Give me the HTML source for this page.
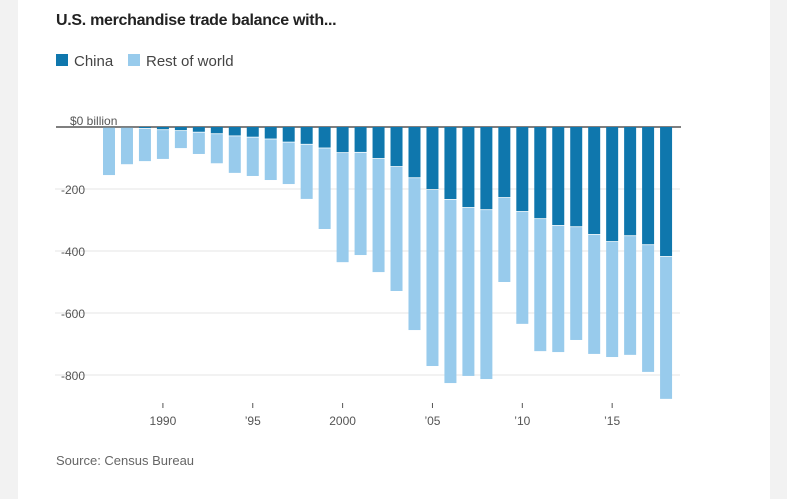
<!DOCTYPE html>
<html><head><meta charset="utf-8"><style>
body{margin:0;width:787px;height:499px;background:#f2f2f2;font-family:"Liberation Sans",sans-serif;overflow:hidden}
#card{position:absolute;left:18px;top:0;width:752px;height:499px;background:#fff}
</style></head><body>
<div id="card"></div>
<svg id="c" width="787" height="499" style="position:absolute;left:0;top:0">
<text x="56" y="25" font-size="16" font-weight="bold" fill="#222" style="letter-spacing:-0.3px">U.S. merchandise trade balance with...</text>
<rect x="56" y="54" width="12" height="12" fill="#0f77ad"/>
<text x="74" y="66" font-size="15" fill="#444">China</text>
<rect x="128" y="54" width="12" height="12" fill="#98cbec"/>
<text x="146" y="66" font-size="15" fill="#444">Rest of world</text>
<g id="grid"></g><g id="bars"></g><g id="xax"></g>
<text x="56" y="465" font-size="13" fill="#666">Source: Census Bureau</text>
</svg>
<script>
const years=[1987,1988,1989,1990,1991,1992,1993,1994,1995,1996,1997,1998,1999,2000,2001,2002,2003,2004,2005,2006,2007,2008,2009,2010,2011,2012,2013,2014,2015,2016,2017,2018];
const china=[-3,-3,-6,-10,-13,-18,-23,-30,-34,-40,-50,-57,-69,-84,-83,-103,-129,-165,-203,-235,-261,-268,-229,-274,-297,-319,-323,-348,-371,-352,-381,-419];
const total=[-155,-120,-110,-103,-68,-87,-117,-148,-158,-171,-184,-232,-329,-436,-413,-468,-529,-655,-771,-826,-803,-813,-500,-635,-723,-726,-687,-732,-742,-735,-790,-877];
const yTicks=[0,-200,-400,-600,-800];
const yTickLabels=["$0 billion","-200","-400","-600","-800"];
const xTicks=[1990,1995,2000,2005,2010,2015];
const xTickLabels=["1990","\u201995","2000","\u201905","\u201910","\u201915"];
const NS="http://www.w3.org/2000/svg";
const y=v=>127-v*0.31;
const x=yr=>109+(yr-1987)*17.97;
function mk(t,a,p){const e=document.createElementNS(NS,t);for(const k in a)e.setAttribute(k,a[k]);document.getElementById(p).appendChild(e);return e;}
yTicks.forEach((v,i)=>{
  if(v!==0){const l=mk('line',{x1:55,x2:680,y1:y(v),y2:y(v),stroke:'#e4e4e4','stroke-width':1},'grid');
  
  }
  const t=mk('text',{x:v===0?70:85,y:y(v)-(v===0?2:-5),'font-size':12,fill:'#555','text-anchor':v===0?'start':'end'},'grid');
  t.textContent=yTickLabels[i];
  
  
});
years.forEach((yr,i)=>{
  const cx=x(yr);
  const r=mk('rect',{x:cx-6,y:y(china[i]),width:12,height:y(total[i])-y(china[i]),fill:'#98cbec'},'bars');
  
  
  const c=mk('rect',{x:cx-6,y:y(0),width:12,height:y(china[i])-y(0)-0.8,fill:'#0f77ad'},'bars');
  
  
});
const z=mk('line',{x1:56,x2:681,y1:y(0),y2:y(0),stroke:'#333','stroke-width':1.2},'grid');


xTicks.forEach((yr,i)=>{
  const tk=mk('line',{x1:x(yr),x2:x(yr),y1:403,y2:408,stroke:'#555'},'xax');
  
  
  const t=mk('text',{x:x(yr),y:425,'font-size':12,fill:'#555','text-anchor':'middle'},'xax');
  t.textContent=xTickLabels[i];
  
  
});
</script>
</body></html>
